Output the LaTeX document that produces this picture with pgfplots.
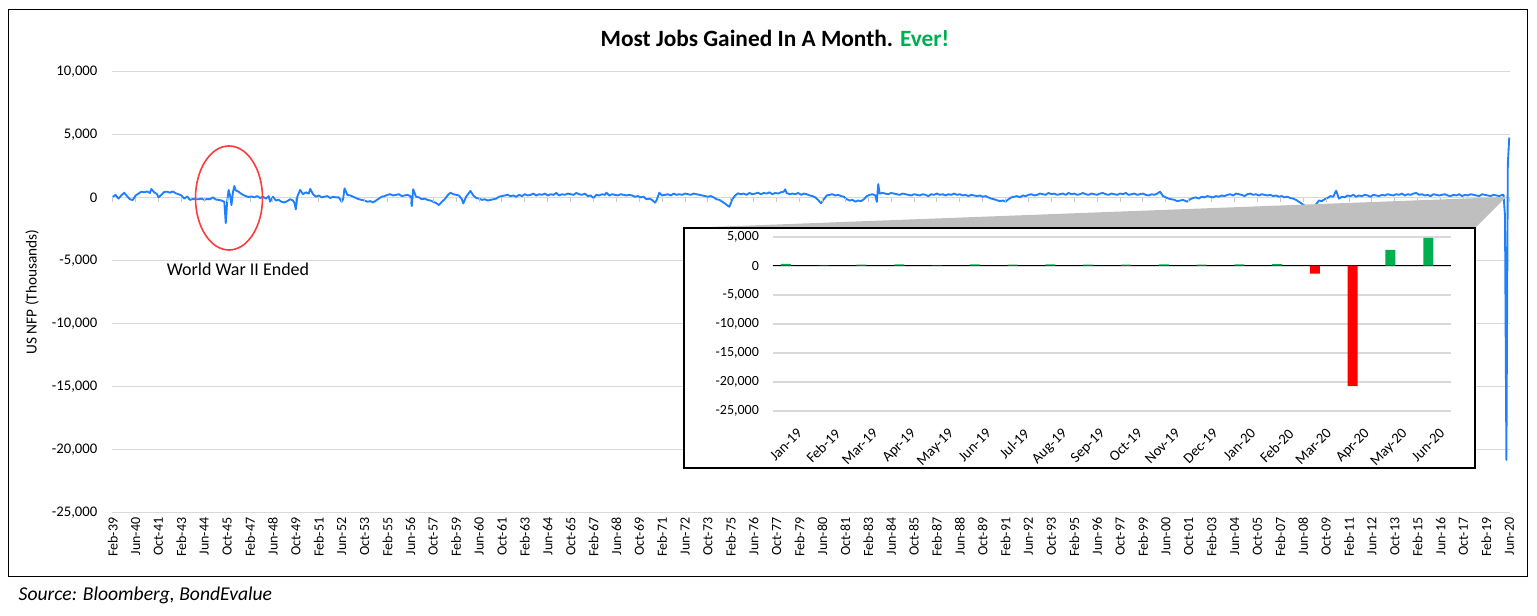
\documentclass[border=0pt]{standalone}
\usepackage{fontspec}
\setmainfont{Carlito}
\usepackage{pgfplots}
\pgfplotsset{compat=1.18}
\definecolor{nfpblue}{HTML}{1E80FF}
\definecolor{gridgray}{HTML}{D9D9D9}
\definecolor{polygray}{HTML}{BFBFBF}
\definecolor{gaingreen}{HTML}{00B050}
\definecolor{lossred}{HTML}{FF0000}
\definecolor{ringred}{HTML}{FF3B3B}

\begin{document}
\begin{tikzpicture}[x=0.75pt,y=0.75pt]
\path[use as bounding box] (0,0) rectangle (1537,616);
\draw[black, line width=0.75pt] (8,39) rectangle (1527,606);

% main chart: monthly change in US non-farm payrolls, x = months since Feb-39
\begin{axis}[
  at={(84pt,77.25pt)}, anchor=south west, scale only axis,
  width=1048.5pt, height=330.75pt,
  xmin=-0.5, xmax=976.5, ymin=-25000, ymax=10000,
  ytick={-25000,-20000,...,10000}, scaled y ticks=false,
  ymajorgrids, grid style={gridgray, line width=0.75pt},
  axis line style={draw=none}, major tick length=0pt,
  /pgf/number format/assume math mode=true,
  /pgf/number format/1000 sep={,},
  yticklabel style={font=\fontsize{11}{13}\selectfont, xshift=-7.5pt},
  xtick={0,16,...,976},
  xticklabels={Feb-39,Jun-40,Oct-41,Feb-43,Jun-44,Oct-45,Feb-47,Jun-48,Oct-49,Feb-51,Jun-52,Oct-53,Feb-55,Jun-56,Oct-57,Feb-59,Jun-60,Oct-61,Feb-63,Jun-64,Oct-65,Feb-67,Jun-68,Oct-69,Feb-71,Jun-72,Oct-73,Feb-75,Jun-76,Oct-77,Feb-79,Jun-80,Oct-81,Feb-83,Jun-84,Oct-85,Feb-87,Jun-88,Oct-89,Feb-91,Jun-92,Oct-93,Feb-95,Jun-96,Oct-97,Feb-99,Jun-00,Oct-01,Feb-03,Jun-04,Oct-05,Feb-07,Jun-08,Oct-09,Feb-11,Jun-12,Oct-13,Feb-15,Jun-16,Oct-17,Feb-19,Jun-20},
  xticklabel style={rotate=90, anchor=east, font=\fontsize{10.5}{12}\selectfont},
  clip=false,
]
\addplot[nfpblue, line width=1.4pt, line join=round] coordinates {
(0,100) (2,250) (4,-50) (6,200) (8,420) (10,150) (12,-100) (14,-160) (16,200) (18,350)
(20,500) (22,450) (24,520) (26,400) (27,710) (29,450) (31,300) (32,50) (34,250) (36,480)
(38,500) (40,420) (42,520) (44,380) (46,300) (48,200) (50,-50) (52,120) (54,-150) (56,-80)
(58,-100) (60,-100) (62,-50) (64,-150) (66,-80) (68,-100) (70,50) (72,-120) (74,-150) (76,-200)
(78,-300) (79,-2000) (80,-250) (81,640) (82,200) (83,-560) (84,450) (85,950) (86,600) (88,500)
(89,400) (91,250) (93,150) (95,80) (97,120) (99,50) (101,150) (103,0) (105,100) (107,-50)
(109,150) (110,-290) (112,100) (114,-200) (116,-150) (118,-300) (120,-350) (122,-250) (124,-100) (126,-200)
(127,-400) (128,-900) (129,100) (131,640) (133,300) (135,450) (137,350) (138,720) (140,300) (142,100)
(144,200) (146,50) (148,100) (150,150) (152,0) (154,100) (156,50) (158,50) (160,-300) (161,-100)
(162,770) (164,250) (166,200) (168,100) (170,0) (172,-100) (174,-150) (176,-200) (178,-300) (180,-250)
(182,-350) (184,-200) (186,-50) (188,100) (190,150) (192,250) (194,300) (196,200) (198,250) (200,300)
(202,150) (204,200) (206,250) (208,150) (209,-640) (210,690) (212,100) (214,50) (216,-100) (218,-50)
(220,-150) (222,-200) (224,-300) (226,-400) (228,-560) (230,-300) (232,-100) (234,200) (236,420) (238,300)
(240,250) (242,200) (244,-100) (245,-430) (247,100) (250,560) (252,200) (254,0) (256,-50) (258,-150)
(260,-100) (262,-200) (264,-150) (266,-100) (268,-50) (270,100) (272,150) (274,200) (276,250) (278,150)
(280,200) (282,100) (284,250) (286,150) (288,300) (290,200) (292,250) (294,350) (296,200) (298,300)
(300,250) (302,350) (304,200) (306,300) (308,250) (310,400) (312,200) (314,300) (316,250) (318,350)
(320,300) (322,250) (324,400) (326,300) (328,250) (330,350) (332,150) (334,200) (336,0) (338,250)
(340,200) (342,300) (344,250) (345,420) (347,200) (349,300) (351,250) (353,200) (355,300) (357,250)
(359,200) (361,250) (363,200) (365,100) (367,150) (369,50) (371,100) (373,-100) (375,-50) (377,-150)
(379,-370) (380,-200) (381,100) (382,420) (384,200) (386,250) (388,300) (390,200) (392,350) (394,250)
(396,300) (398,250) (400,350) (402,300) (404,250) (406,350) (408,300) (410,250) (412,200) (414,150)
(416,100) (418,150) (420,50) (422,-100) (424,-150) (426,-300) (428,-450) (430,-630) (431,-690) (432,-400)
(433,-100) (435,200) (437,370) (439,300) (441,350) (443,250) (445,400) (447,300) (449,350) (451,420)
(453,300) (455,400) (457,350) (459,450) (461,300) (463,400) (465,350) (467,450) (469,500) (470,690)
(471,400) (473,300) (475,350) (477,300) (479,400) (481,250) (483,350) (485,300) (487,200) (489,150)
(491,50) (493,-160) (495,-420) (497,-100) (499,200) (501,250) (503,300) (505,200) (507,250) (509,150)
(511,100) (513,-100) (515,-200) (517,-150) (519,-290) (521,-200) (523,-250) (525,-100) (527,150) (529,250)
(531,300) (533,200) (534,-310) (535,1110) (536,350) (538,400) (540,350) (542,300) (544,400) (546,350)
(548,300) (550,250) (552,350) (554,300) (556,250) (558,200) (560,300) (562,250) (564,200) (566,300)
(568,250) (570,150) (572,300) (574,250) (576,350) (578,250) (580,300) (582,200) (584,300) (586,250)
(588,350) (590,250) (592,300) (594,200) (596,250) (598,150) (600,250) (602,200) (604,150) (606,200)
(608,100) (610,150) (612,50) (614,-50) (616,-100) (618,-180) (620,-250) (622,-200) (624,-290) (626,-100)
(628,50) (630,100) (632,150) (634,50) (636,200) (638,150) (640,250) (642,300) (644,200) (646,250)
(648,350) (650,300) (652,250) (654,400) (656,300) (658,350) (660,250) (662,300) (664,350) (666,250)
(668,400) (670,300) (672,350) (674,250) (676,300) (678,400) (680,300) (682,250) (684,350) (686,300)
(688,250) (690,350) (692,400) (694,300) (696,250) (698,350) (700,300) (702,250) (704,350) (706,300)
(708,400) (710,250) (712,300) (714,350) (716,250) (718,300) (720,350) (722,250) (724,200) (726,300)
(728,250) (730,350) (732,500) (734,150) (736,50) (738,-50) (740,-100) (742,-150) (744,-250) (746,-200)
(748,-150) (750,-250) (751,-290) (753,-100) (755,0) (757,50) (759,-50) (761,100) (763,50) (765,150)
(767,100) (769,50) (771,150) (773,100) (775,200) (777,150) (779,250) (781,300) (783,200) (785,350)
(787,300) (789,250) (791,150) (793,300) (795,350) (797,250) (799,300) (801,200) (803,300) (805,250)
(807,200) (809,250) (811,150) (813,200) (815,100) (817,150) (819,50) (821,100) (823,0) (825,-50)
(827,-150) (829,-300) (831,-450) (833,-600) (835,-800) (837,-700) (839,-750) (841,-500) (843,-200) (845,-250)
(847,-100) (849,0) (851,150) (853,100) (855,580) (857,-50) (859,100) (861,50) (863,200) (865,150)
(867,250) (869,100) (871,200) (873,150) (875,250) (877,200) (879,100) (881,250) (883,200) (885,150)
(887,250) (889,200) (891,300) (893,250) (895,200) (897,300) (899,250) (901,350) (903,200) (905,300)
(907,250) (909,350) (911,400) (913,250) (915,300) (917,200) (919,250) (921,150) (923,300) (925,250)
(927,200) (929,250) (931,300) (933,200) (935,150) (937,250) (939,200) (941,300) (943,150) (945,250)
(947,200) (949,300) (951,250) (953,200) (955,150) (957,300) (959,250) (961,200) (963,150) (965,250)
(967,200) (969,150) (971,250) (972,250) (973,-1373) (974,-20787) (975,2725) (976,4800)
};
% category-axis tick marks hanging from the zero line
\pgfplotsinvokeforeach{0,16,...,976}{\draw[gridgray!80!gray, line width=0.75pt] (axis cs:#1,0) -- (axis cs:#1,-300);}
\end{axis}

% callout wedge and inset frame
\fill[polygray] (684,388) -- (1506,419) -- (1475,388) -- cycle;
\filldraw[fill=white, draw=black, line width=0.8pt] (684,148) rectangle (1475,388);

% inset: last 18 months
\begin{axis}[
  at={(579.5pt,154pt)}, anchor=south west, scale only axis,
  width=508.7pt, height=130.5pt,
  xmin=-0.35, xmax=17.6, ymin=-25000, ymax=5000,
  ytick={-25000,-20000,...,5000}, scaled y ticks=false,
  ymajorgrids, grid style={gridgray, line width=1.5pt},
  extra y ticks={0}, extra y tick labels={},
  extra y tick style={grid style={black, line width=0.9pt}},
  axis line style={draw=none}, major tick length=0pt,
  /pgf/number format/assume math mode=true,
  /pgf/number format/1000 sep={,},
  yticklabel style={font=\fontsize{10.5}{12}\selectfont, xshift=-6.8pt},
  xtick={0,...,17},
  xticklabels={Jan-19,Feb-19,Mar-19,Apr-19,May-19,Jun-19,Jul-19,Aug-19,Sep-19,Oct-19,Nov-19,Dec-19,Jan-20,Feb-20,Mar-20,Apr-20,May-20,Jun-20},
  xticklabel style={rotate=45, anchor=north east, font=\fontsize{11}{12}\selectfont, xshift=0pt, yshift=-11pt},
  ybar, bar width=7.5pt,
]
\addplot[fill=gaingreen, draw=none, bar shift=0pt] coordinates {
(0,312) (1,30) (2,189) (3,224) (4,60) (5,224) (6,194) (7,200) (8,190) (9,185)
(10,230) (11,184) (12,214) (13,251) (16,2725) (17,4800)
};
\addplot[fill=lossred, draw=none, bar shift=0pt] coordinates {
(14,-1373) (15,-20787)
};
\end{axis}

\draw[ringred, line width=1.2pt] (229,418) ellipse [x radius=33.5, y radius=52];
\node[font=\fontsize{13.5}{16}\selectfont] at (238,347) {World War II Ended};
\node[rotate=90, font=\fontsize{11.5}{14}\selectfont] at (32,324) {US NFP (Thousands)};
\node[font=\bfseries\fontsize{17.5}{20}\selectfont] at (775,578)
  {Most Jobs Gained In A Month. \textcolor{gaingreen}{Ever!}};
\node[anchor=west, font=\itshape\fontsize{14.7}{17}\selectfont] at (14,21)
  {Source: Bloomberg, BondEvalue};
\end{tikzpicture}
\end{document}
